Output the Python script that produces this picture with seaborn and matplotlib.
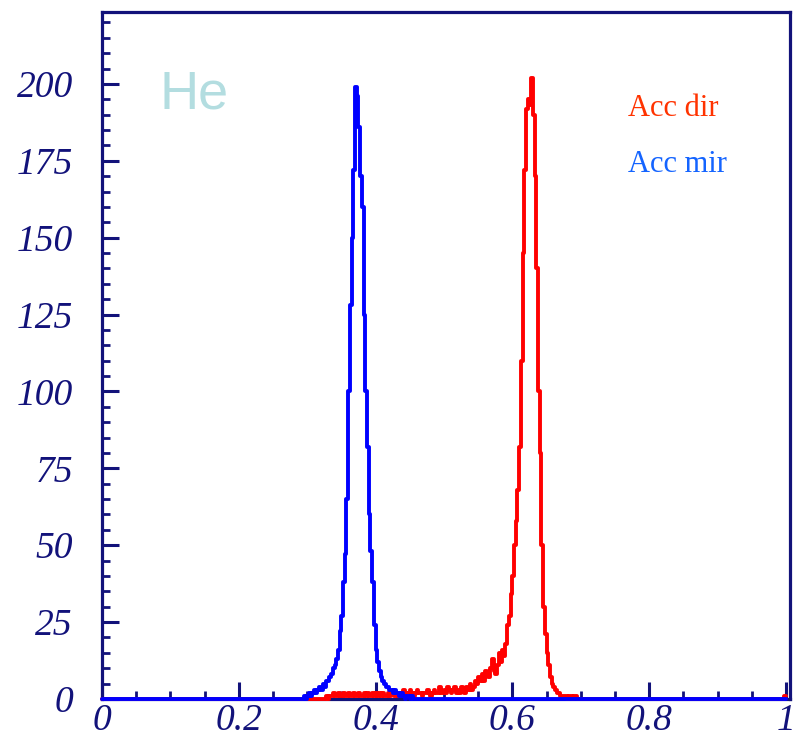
import numpy as np
import pandas as pd
import matplotlib
matplotlib.use("Agg")
import matplotlib.pyplot as plt
import seaborn as sns
from matplotlib.ticker import MultipleLocator, FixedLocator

# ---------------- data (bin width 0.0025) ----------------
bin_width = 0.0025

blue_start = 0.295
blue_counts = [1, 0, 1, 2, 1, 2, 3, 2, 3, 4,
               3, 5, 4, 6, 6, 7, 8, 10, 11, 13,
               16, 22, 27, 38, 47, 65, 100, 128, 150, 172,
               199, 196, 186, 170, 160, 125, 100, 82, 60, 48,
               38, 24, 16, 12, 9, 7, 6, 5, 4, 4,
               3, 3, 2, 3, 2, 2, 1, 2, 1, 0,
               1, 1, 0, 1]

red_start = 0.3275
red_counts = [1, 0, 1, 1, 2, 1, 1, 2, 1, 1,
              2, 1, 1, 2, 1, 1, 2, 1, 1, 2,
              1, 1, 2, 1, 2, 1, 1, 2, 1, 2,
              1, 2, 1, 2, 1, 1, 2, 1, 2, 2,
              1, 2, 1, 2, 1, 3, 2, 1, 2, 3,
              2, 1, 2, 3, 2, 2, 1, 2, 2, 3,
              2, 1, 2, 3, 2, 2, 4, 2, 2, 3,
              2, 4, 3, 2, 3, 4, 2, 3, 2, 4,
              3, 2, 4, 3, 5, 3, 4, 6, 5, 7,
              6, 8, 6, 9, 8, 7, 10, 13, 9, 8,
              11, 15, 12, 16, 14, 18, 24, 27, 34, 40,
              50, 58, 68, 82, 110, 145, 172, 192, 195, 193,
              202, 190, 170, 140, 100, 80, 50, 30, 21, 15,
              11, 7, 5, 4, 3, 2, 2, 1, 1, 1,
              1, 0, 1, 1, 0, 1, 1, 0]
red_edge_x = [0.99875]
red_edge_counts = [1]

x_ticks = [0, 0.2, 0.4, 0.6, 0.8, 1]
x_tick_labels = ["0", "0.2", "0.4", "0.6", "0.8", "1"]
y_ticks = [0, 25, 50, 75, 100, 125, 150, 175, 200]
y_tick_labels = [str(v) for v in y_ticks]

# ---------------- figure ----------------
sns.set_style("white")
plt.rcParams["font.family"] = ["DejaVu Sans"]

fig = plt.figure(figsize=(7.96, 7.39), dpi=100)
ax = fig.add_axes([102 / 796, 1 - 699 / 739, (790 - 102) / 796, (699 - 12) / 739])

edges = list(np.round(np.arange(0, 1.0 + bin_width / 2, bin_width), 6))

blue_df = pd.DataFrame({
    "x": blue_start + bin_width * (np.arange(len(blue_counts)) + 0.5),
    "w": np.asarray(blue_counts, dtype=float),
})
red_df = pd.DataFrame({
    "x": np.concatenate([red_start + bin_width * (np.arange(len(red_counts)) + 0.5), red_edge_x]),
    "w": np.concatenate([np.asarray(red_counts, dtype=float), red_edge_counts]),
})

n0 = len(ax.lines)
sns.histplot(data=red_df, x="x", weights="w", bins=edges, element="step",
             fill=False, color="#ff0000", linewidth=2.8, ax=ax)
for ln in ax.lines[n0:]:
    ln.set_zorder(3)
    ln.set_clip_on(False)
n1 = len(ax.lines)
sns.histplot(data=blue_df, x="x", weights="w", bins=edges, element="step",
             fill=False, color="#0000ff", linewidth=2.8, ax=ax)
for ln in ax.lines[n1:]:
    ln.set_zorder(3.1)
    ln.set_clip_on(False)

navy = "#12127a"
ax.set_xlim(0, 1.006)
ax.set_ylim(0, 223.4)
ax.set_xlabel("")
ax.set_ylabel("")

for s in ax.spines.values():
    s.set_color(navy)
    s.set_linewidth(2.3)
    s.set_visible(True)

ax.xaxis.set_major_locator(FixedLocator(x_ticks))
ax.xaxis.set_minor_locator(MultipleLocator(0.05))
ax.yaxis.set_major_locator(FixedLocator(y_ticks))
ax.yaxis.set_minor_locator(MultipleLocator(5))
ax.set_xticklabels(x_tick_labels)
ax.set_yticklabels(y_tick_labels)

for lab in ax.get_xticklabels() + ax.get_yticklabels():
    lab.set_fontfamily("Liberation Serif")
    lab.set_fontstyle("italic")
    lab.set_fontsize(27)
    lab.set_color(navy)

ax.tick_params(axis="both", which="both", direction="in", color=navy,
               top=False, right=False, left=True, bottom=True)
ax.tick_params(axis="y", which="major", length=12, width=2.2, pad=21)
ax.tick_params(axis="y", which="minor", length=6, width=2.0)
ax.tick_params(axis="x", which="major", length=12, width=2.2, pad=3)
ax.tick_params(axis="x", which="minor", length=6, width=2.0)

ax.text(0.084, 0.860, "He", transform=ax.transAxes, color="#b3dde0",
        fontsize=39, family="Liberation Sans")
ax.text(0.7645, 0.849, "Acc dir", transform=ax.transAxes, color="#ff3300",
        fontsize=22, family="Liberation Serif")
ax.text(0.7645, 0.767, "Acc mir", transform=ax.transAxes, color="#1464ff",
        fontsize=22, family="Liberation Serif")

fig.savefig("out.png", dpi=100)
